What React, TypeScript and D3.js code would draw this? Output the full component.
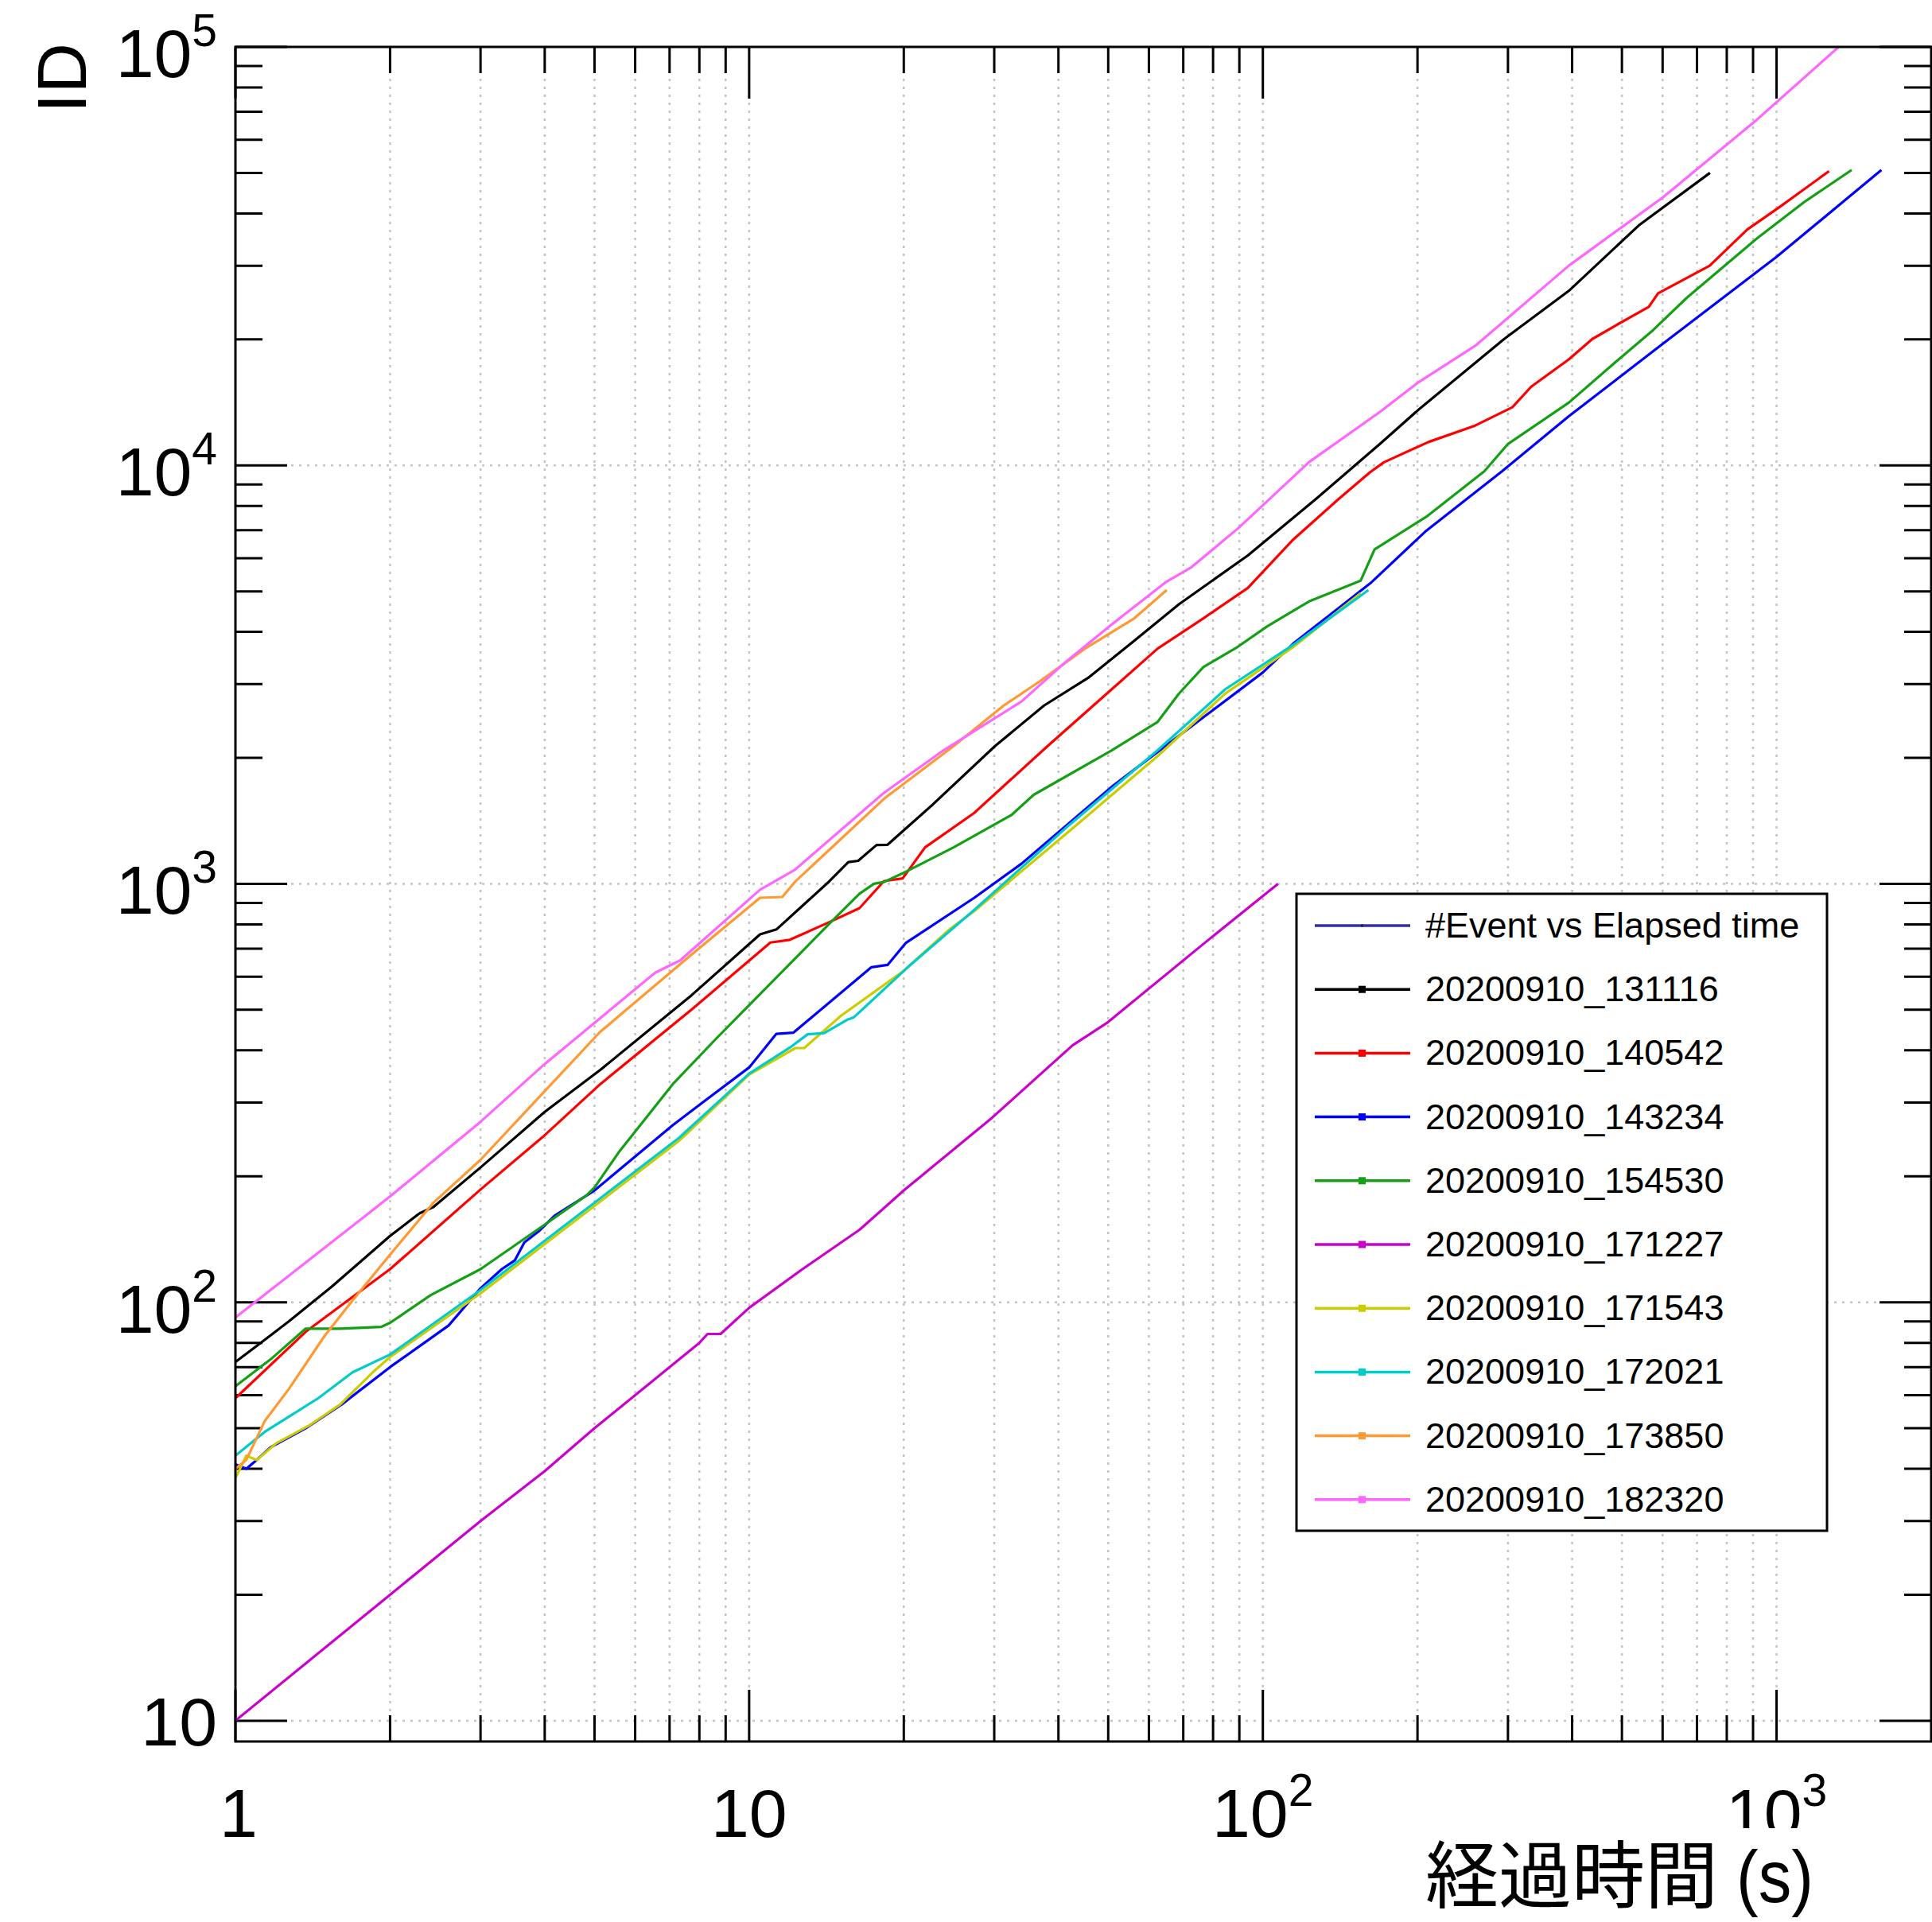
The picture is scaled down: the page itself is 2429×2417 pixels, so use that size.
import React from 'react';
import * as d3 from 'd3';

const W = 2429;
const H = 2417;

// axis limits
const xMin = 1;
const xMax = 2000;
const yMin = 8.92;
const yMax = 1e5;

// tick labels [base, superscript]
const xMajorTicks = [1, 10, 100, 1000];
const xMajorLabels: [string, string][] = [['1', ''], ['10', ''], ['10', '2'], ['10', '3']];
const yMajorTicks = [10, 100, 1000, 10000, 100000];
const yMajorLabels: [string, string][] = [['10', ''], ['10', '2'], ['10', '3'], ['10', '4'], ['10', '5']];
const decadesX = [1, 10, 100, 1000];
const decadesY = [10, 100, 1000, 10000];
const minorMultipliers = [2, 3, 4, 5, 6, 7, 8, 9];

const xTitleJa = '経過時間';
const xTitleUnit = ' (s)';
const yTitle = 'ID';
const legendHeader = '#Event vs Elapsed time';

const seriesNames = [
  '20200910_131116',
  '20200910_140542',
  '20200910_143234',
  '20200910_154530',
  '20200910_171227',
  '20200910_171543',
  '20200910_172021',
  '20200910_173850',
  '20200910_182320',
];
const seriesColors = ['#000000', '#ff0000', '#0000ff', '#14a014', '#cc00cc', '#cccc00', '#00cccc', '#ff9933', '#ff66ff'];

const s131116: [number, number][] = [
  [1, 72], [1.12, 80], [1.27, 90], [1.54, 109], [2, 144], [2.28, 163], [2.43, 169], [3, 210], [4, 285],
  [5.13, 359], [7.73, 542], [10.5, 757], [11.3, 778], [14.3, 1012], [15.6, 1127], [16.3, 1135], [17.7, 1238],
  [18.6, 1240], [22.8, 1549], [30.1, 2134], [37.5, 2667], [45.9, 3118], [56.2, 3810], [68.7, 4660],
  [93.5, 6090], [127, 8320], [169, 11250], [201, 13590], [295, 20050], [394, 26120], [541, 37580], [742, 50000],
];
const s140542: [number, number][] = [
  [1, 59], [1.37, 85], [2, 120], [3, 186], [3.96, 248], [5.13, 332], [7.73, 501], [11, 724], [12, 735],
  [14.3, 809], [16.4, 875], [18.3, 1015], [19.9, 1030], [22, 1222], [27.4, 1476], [38.1, 2134], [50.8, 2917],
  [62.4, 3649], [76.6, 4310], [93.5, 5095], [114.6, 6650], [140.6, 8320], [161.6, 9620], [172, 10170],
  [210, 11370], [259, 12450], [306, 13770], [333, 15420], [394, 17910], [438, 20050], [487, 21620],
  [564, 23920], [588, 25770], [741, 30000], [877, 36620], [1016, 41520], [1265, 50470],
];
const s143234: [number, number][] = [
  [1, 41], [1.05, 40], [1.1, 42], [1.17, 45], [1.37, 50], [1.61, 57], [2, 70], [2.6, 88], [3, 108],
  [3.3, 120], [3.5, 126], [3.65, 139], [3.9, 148], [4.18, 161], [5, 185], [7.1, 265], [8.2, 303],
  [10, 364], [11.3, 438], [12.2, 441], [17.3, 632], [18.6, 640], [20.2, 723], [27.4, 925], [33.9, 1117],
  [50.8, 1706], [76.6, 2500], [100, 3200], [114.6, 3750], [162, 5230], [208, 6980], [292, 9680],
  [394, 13100], [600, 19500], [1000, 31500], [1600, 50800],
];
const s154530: [number, number][] = [
  [1, 63], [1.17, 73], [1.37, 86.5], [1.6, 86.5], [1.92, 87.3], [2, 89.3], [2.4, 104], [3, 120],
  [3.96, 152], [4.82, 180], [5, 188], [5.57, 228], [7.1, 332], [8.6, 425], [14.3, 801], [16.4, 947],
  [17.5, 1000], [18.3, 1010], [20.2, 1069], [25, 1222], [32.4, 1460], [35.8, 1632], [50.8, 2085],
  [62.4, 2438], [68.7, 2851], [76.6, 3296], [89.3, 3682], [102, 4124], [123, 4731], [155, 5300],
  [165, 6300], [208, 7534], [270, 9685], [300, 11250], [394, 14120], [487, 17700], [576, 21090],
  [668, 25120], [915, 34830], [1131, 42560], [1400, 50800],
];
const s171227: [number, number][] = [
  [1, 10], [2, 20], [3, 30], [4, 39.5], [5, 50], [6, 60], [8, 80], [8.3, 84], [8.8, 84], [10, 97],
  [12.7, 120], [16.4, 149], [20, 185], [29.7, 276], [42.6, 411], [49.7, 465], [78.7, 738], [107, 1000],
];
const s171543: [number, number][] = [
  [1, 38], [1.05, 43], [1.1, 42], [1.2, 46], [1.4, 51], [1.6, 57], [1.85, 68], [2, 74], [3, 105],
  [5, 170], [7.3, 243], [10, 350], [12.3, 405], [12.8, 405], [15.1, 484], [20, 620], [24.6, 780],
  [27.4, 860], [41.5, 1320], [62.4, 2020], [84.5, 2850], [114.6, 3680], [155, 4950],
];
const s172021: [number, number][] = [
  [1, 43], [1.14, 49], [1.45, 59], [1.69, 68], [2, 75], [3, 107], [5, 173], [7.3, 247], [10, 352],
  [12, 406], [13, 437], [14, 440], [15.5, 473], [16, 480], [20.6, 640], [27.4, 865], [41.5, 1365],
  [62.4, 2085], [84.5, 2917], [114.6, 3724], [160.5, 5036],
];
const s173850: [number, number][] = [
  [1, 40], [1.05, 42], [1.14, 52], [1.27, 62], [1.49, 83], [1.69, 101], [2, 130], [2.43, 173], [3, 219],
  [3.86, 305], [5.13, 443], [7.73, 678], [10.5, 926], [11.6, 930], [12.27, 1010], [18.3, 1596],
  [25, 2134], [31.3, 2667], [36.8, 3048], [45, 3645], [56.2, 4310], [65, 5036],
];
const s182320: [number, number][] = [
  [1, 92], [1.4, 127], [2, 179], [3, 270], [4.01, 372], [6.56, 613], [7.34, 656], [10.5, 968],
  [12.27, 1080], [18.3, 1650], [23.9, 2085], [33.9, 2728], [41.5, 3405], [50.8, 4169], [64.9, 5272],
  [72.7, 5716], [89.6, 7080], [123, 10180], [169, 13420], [201, 15810], [259, 19300], [394, 30000],
  [600, 43650], [915, 66960], [1321, 100000],
];
const seriesData = [s131116, s140542, s143234, s154530, s171227, s171543, s172021, s173850, s182320];

const FONT = "'Liberation Sans', Arial, Helvetica, sans-serif";

export default function App() {
  const L = 296, R = 2428, T = 59, B = 2190;
  const x = d3.scaleLog().domain([xMin, xMax]).range([L, R]);
  const y = d3.scaleLog().domain([yMin, yMax]).range([B, T]);
  const line = d3.line<[number, number]>().x((d) => x(d[0])).y((d) => y(d[1]));

  const xMinor: number[] = [];
  decadesX.forEach((d) => minorMultipliers.forEach((m) => { const v = d * m; if (v < xMax) xMinor.push(v); }));
  const yMinor: number[] = [];
  decadesY.forEach((d) => minorMultipliers.forEach((m) => { const v = d * m; if (v < yMax) yMinor.push(v); }));

  const majT = 65, minT = 34;
  const gridStyle = { stroke: '#c4c4c4', strokeWidth: 2.5, strokeDasharray: '3 7' };

  const legX = 1630, legY = 1124, legW = 667, legH = 801;
  const rowY0 = 1164, rowStep = 80.2;
  const legendRows = [{ name: legendHeader, color: '#3030a0', marker: false }].concat(
    seriesNames.map((n, i) => ({ name: n, color: seriesColors[i], marker: true }))
  );

  return (
    <svg width={W} height={H} style={{ position: 'absolute', left: 0, top: 0, background: '#fff' }} fontFamily={FONT}>
      <rect x={0} y={0} width={W} height={H} fill="#fff" />
      <defs>
        <clipPath id="plotclip">
          <rect x={L} y={T} width={R - L} height={B - T} />
        </clipPath>
      </defs>
      {/* grid */}
      {xMinor.concat(xMajorTicks.slice(1)).map((v, i) => (
        <line key={'gx' + i} x1={x(v)} x2={x(v)} y1={T} y2={B} {...gridStyle} />
      ))}
      {yMajorTicks.slice(0, 4).map((v, i) => (
        <line key={'gy' + i} x1={L} x2={R} y1={y(v)} y2={y(v)} {...gridStyle} />
      ))}
      {/* ticks */}
      <g stroke="#000" strokeWidth={3}>
        {xMinor.map((v, i) => (
          <g key={'xm' + i}>
            <line x1={x(v)} x2={x(v)} y1={B} y2={B - minT + 1} />
            <line x1={x(v)} x2={x(v)} y1={T} y2={T + minT - 1} />
          </g>
        ))}
        {xMajorTicks.map((v, i) => (
          <g key={'xM' + i}>
            <line x1={x(v)} x2={x(v)} y1={B} y2={B - majT} />
            <line x1={x(v)} x2={x(v)} y1={T} y2={T + majT} />
          </g>
        ))}
        {yMinor.map((v, i) => (
          <g key={'ym' + i}>
            <line x1={L} x2={L + minT} y1={y(v)} y2={y(v)} />
            <line x1={R} x2={R - minT} y1={y(v)} y2={y(v)} />
          </g>
        ))}
        {yMajorTicks.map((v, i) => (
          <g key={'yM' + i}>
            <line x1={L} x2={L + majT} y1={y(v)} y2={y(v)} />
            <line x1={R} x2={R - majT} y1={y(v)} y2={y(v)} />
          </g>
        ))}
      </g>
      {/* series */}
      <g clipPath="url(#plotclip)" fill="none" strokeWidth={3.2} strokeLinejoin="round">
        {seriesData.map((d, i) => (
          <path key={'s' + i} d={line(d) || ''} stroke={seriesColors[i]} />
        ))}
      </g>
      {/* frame */}
      <rect x={L} y={T} width={R - L} height={B - T} fill="none" stroke="#000" strokeWidth={3} />
      {/* y tick labels */}
      {yMajorTicks.map((v, i) => {
        const [b, s] = yMajorLabels[i];
        return (
          <text key={'yl' + i} x={273} y={y(v) + (s ? 38 : 31)} textAnchor="end" fontSize={86} fill="#000">
            {b}
            {s && <tspan dy={-39} fontSize={57}>{s}</tspan>}
          </text>
        );
      })}
      {/* x tick labels */}
      {xMajorTicks.map((v, i) => {
        const [b, s] = xMajorLabels[i];
        return (
          <text key={'xl' + i} x={x(v) + (i === 0 ? 4 : 0)} y={2310} textAnchor="middle" fontSize={86} fill="#000">
            {b}
            {s && <tspan dy={-39} fontSize={57}>{s}</tspan>}
          </text>
        );
      })}
      {/* x title with white box */}
      <rect x={1770} y={2299} width={530} height={118} fill="#fff" />
      <text x={2280} y={2392} textAnchor="end" fill="#000">
        <tspan fontSize={92} fontFamily="'Noto Sans CJK JP', sans-serif">{xTitleJa}</tspan>
        <tspan fontSize={92} fontFamily={FONT} textLength={120} lengthAdjust="spacingAndGlyphs">{xTitleUnit}</tspan>
      </text>
      {/* y title */}
      <text transform="translate(108,54) rotate(-90)" textAnchor="end" fontSize={88} fill="#000">
        {yTitle}
      </text>
      {/* legend */}
      <rect x={legX} y={legY} width={legW} height={legH} fill="#fff" stroke="#000" strokeWidth={3} />
      {legendRows.map((r, i) => {
        const cy = rowY0 + i * rowStep;
        return (
          <g key={'lg' + i}>
            <line x1={1653} x2={1773} y1={cy} y2={cy} stroke={r.color} strokeWidth={3.5} />
            {r.marker ? (
              <rect x={1708} y={cy - 4.5} width={9} height={9} fill={r.color} />
            ) : (
              <rect x={1711} y={cy - 1.5} width={3} height={3} fill="#222" />
            )}
            <text x={1792} y={cy + 15} fontSize={45} fill="#000">
              {r.name}
            </text>
          </g>
        );
      })}
    </svg>
  );
}
